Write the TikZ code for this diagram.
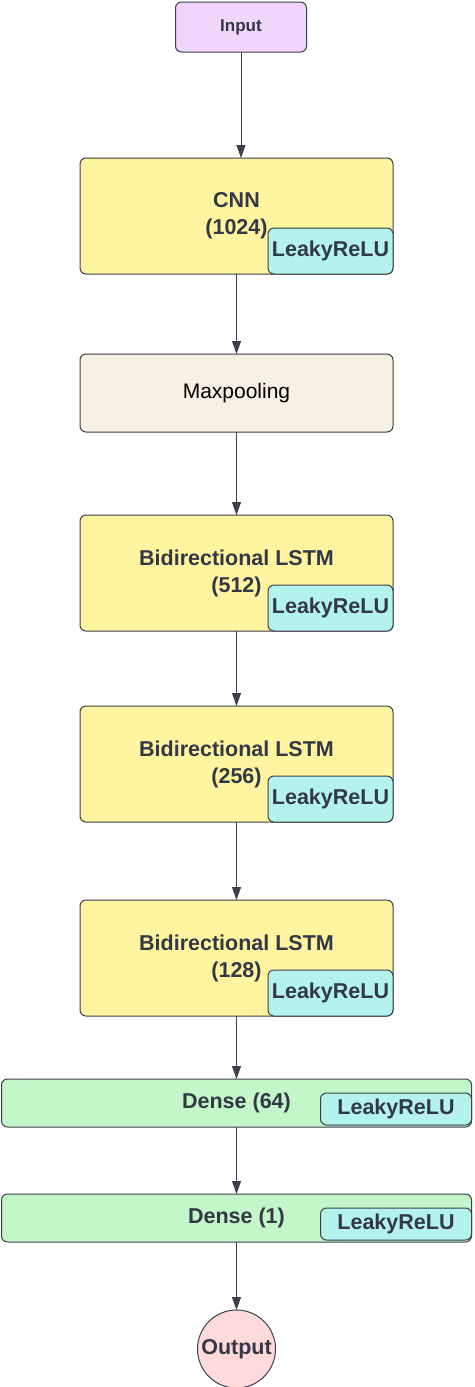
\documentclass[tikz,border=0pt]{standalone}
\usepackage{fontspec}
\setmainfont{Liberation Sans}
\usepackage{xcolor}
\usetikzlibrary{arrows.meta, positioning}

\definecolor{edgegray}{HTML}{3D3F4A}
\definecolor{txtgray}{HTML}{333845}
\definecolor{yellowfill}{HTML}{FFF5A1}
\definecolor{cyanfill}{HTML}{B4F3EC}
\definecolor{greenfill}{HTML}{C3F7C9}
\definecolor{inputfill}{HTML}{F0D6FA}
\definecolor{poolfill}{HTML}{F6F2E3}
\definecolor{outfill}{HTML}{FFDADA}

\begin{document}
\begin{tikzpicture}[
  x=1pt, y=1pt,
  layer/.style={draw=edgegray, line width=1pt, rounded corners=6pt, minimum width=313pt, text centered, align=center, inner sep=0pt, outer sep=0pt, text=txtgray, font=\bfseries\fontsize{21.5}{27}\selectfont},
  convbox/.style={layer, fill=yellowfill, minimum height=116pt},
  poolbox/.style={layer, fill=poolfill, minimum height=78pt, text=black, font=\fontsize{21}{25}\selectfont},
  densebox/.style={layer, fill=greenfill, minimum width=470pt, minimum height=48pt},
  inbox/.style={layer, fill=inputfill, minimum width=131pt, minimum height=50pt, font=\bfseries\fontsize{17}{20}\selectfont},
  outcircle/.style={layer, circle, fill=outfill, minimum size=78pt, rounded corners=0pt},
  act/.style={draw=edgegray, line width=1pt, rounded corners=6pt, fill=cyanfill, inner sep=0pt, outer sep=0pt, anchor=south east, text=txtgray, font=\bfseries\fontsize{21.5}{26}\selectfont, minimum width=125pt, minimum height=46pt},
  line/.style={draw=edgegray, line width=1pt, -{Triangle[length=13pt, width=9pt]}}
]
\useasboundingbox (0,0) rectangle (474,-1387);

% Layers
\node (cnn) [convbox] at (236.5,-216) {CNN\\(1024)};
\node (input) [inbox, above=106pt of cnn, xshift=4.5pt] {Input};
\node (pool) [poolbox, below=80pt of cnn] {Maxpooling};
\node (lstma) [convbox, below=83pt of pool] {Bidirectional LSTM\\(512)};
\node (lstmb) [convbox, below=75pt of lstma] {Bidirectional LSTM\\(256)};
\node (lstmc) [convbox, below=78pt of lstmb] {Bidirectional LSTM\\(128)};
\node (densea) [densebox, below=63pt of lstmc] {Dense (64)};
\node (denseb) [densebox, below=67pt of densea] {Dense (1)};
\node (output) [outcircle, below=68pt of denseb] {Output};

% Activations
\node (actcnn) [act] at (cnn.south east) {LeakyReLU};
\node (acta) [act] at (lstma.south east) {LeakyReLU};
\node (actb) [act] at (lstmb.south east) {LeakyReLU};
\node (actc) [act] at (lstmc.south east) {LeakyReLU};
\node (actda) [act, minimum width=151pt, minimum height=32pt, yshift=2pt] at (densea.south east) {LeakyReLU};
\node (actdb) [act, minimum width=151pt, minimum height=32pt, yshift=2pt] at (denseb.south east) {LeakyReLU};

% Connections
\draw [line] (input.south) -- (input.south |- cnn.north);
\draw [line] (cnn.south) -- (pool.north);
\draw [line] (pool.south) -- (lstma.north);
\draw [line] (lstma.south) -- (lstmb.north);
\draw [line] (lstmb.south) -- (lstmc.north);
\draw [line] (lstmc.south) -- (densea.north);
\draw [line] (densea.south) -- (denseb.north);
\draw [line] (denseb.south) -- (output.north);

\end{tikzpicture}
\end{document}
